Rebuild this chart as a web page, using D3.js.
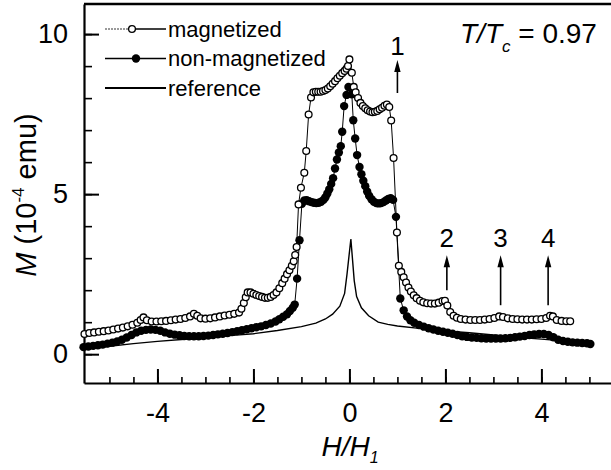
<!DOCTYPE html>
<html>
<head>
<meta charset="utf-8">
<style>
  body { margin: 0; background: #fff; }
  svg { display: block; font-family: "Liberation Sans", Arial, sans-serif; }
</style>
</head>
<body>
<script src="https://cdn.jsdelivr.net/npm/d3@7/dist/d3.min.js"></script>
<script>
// [H/H1, M]
const magnetized = [
  [-5.52,0.63],[-5.42,0.66],[-5.32,0.68],[-5.22,0.70],[-5.12,0.72],[-5.02,0.74],[-4.92,0.77],[-4.82,0.80],
  [-4.72,0.83],[-4.62,0.87],[-4.52,0.92],[-4.42,0.98],[-4.35,1.07],[-4.29,1.15],[-4.22,1.06],[-4.12,1.02],
  [-4.02,1.02],[-3.92,1.03],[-3.82,1.04],[-3.72,1.06],[-3.62,1.08],[-3.52,1.10],[-3.42,1.13],[-3.32,1.18],
  [-3.24,1.26],[-3.17,1.20],[-3.10,1.12],[-3.00,1.11],[-2.90,1.12],[-2.80,1.15],[-2.70,1.18],[-2.60,1.21],
  [-2.50,1.23],[-2.40,1.26],[-2.30,1.30],[-2.25,1.42],[-2.20,1.60],[-2.16,1.78],[-2.12,1.93],[-2.06,1.93],
  [-2.00,1.89],[-1.94,1.85],[-1.88,1.82],[-1.82,1.79],[-1.76,1.76],[-1.70,1.76],[-1.64,1.79],[-1.58,1.85],
  [-1.52,1.93],[-1.46,2.06],[-1.40,2.22],[-1.35,2.36],[-1.30,2.50],[-1.25,2.62],[-1.20,2.76],[-1.16,2.90],
  [-1.13,3.10],[-1.10,3.35],[-1.06,4.68],[-1.01,5.20],[-0.94,5.67],[-0.90,6.35],[-0.85,7.49],[-0.80,8.02],
  [-0.75,8.18],[-0.70,8.20],[-0.65,8.20],[-0.60,8.20],[-0.55,8.22],[-0.50,8.25],[-0.45,8.30],[-0.40,8.37],
  [-0.35,8.45],[-0.30,8.53],[-0.25,8.62],[-0.20,8.70],[-0.15,8.78],[-0.10,8.85],[-0.06,8.92],[-0.03,9.00],
  [0.00,9.21],[0.05,8.79],[0.09,8.35],[0.13,8.18],[0.18,8.00],[0.23,7.85],[0.28,7.75],[0.33,7.68],
  [0.38,7.62],[0.43,7.58],[0.48,7.56],[0.53,7.57],[0.58,7.60],[0.63,7.65],[0.68,7.70],[0.73,7.76],
  [0.78,7.80],[0.83,7.72],[0.87,7.30],[0.92,6.13],[0.99,3.80],[1.03,2.76],[1.08,2.57],[1.13,2.40],
  [1.18,2.24],[1.23,2.08],[1.28,1.96],[1.34,1.84],[1.40,1.75],[1.47,1.67],[1.54,1.62],[1.62,1.59],
  [1.70,1.58],[1.78,1.58],[1.86,1.61],[1.94,1.66],[1.99,1.67],[2.04,1.52],[2.10,1.32],[2.17,1.20],
  [2.24,1.14],[2.32,1.10],[2.42,1.08],[2.52,1.07],[2.62,1.07],[2.72,1.07],[2.82,1.08],[2.92,1.10],
  [3.02,1.13],[3.12,1.18],[3.20,1.16],[3.30,1.12],[3.40,1.10],[3.50,1.09],[3.60,1.08],[3.70,1.08],
  [3.80,1.08],[3.90,1.09],[4.00,1.10],[4.10,1.13],[4.18,1.20],[4.24,1.18],[4.32,1.07],[4.42,1.04],
  [4.52,1.03],[4.60,1.03]
];

const nonMagnetized = [
  [-5.54,0.22],[-5.44,0.24],[-5.34,0.26],[-5.24,0.28],[-5.14,0.30],[-5.04,0.33],[-4.94,0.36],[-4.84,0.40],
  [-4.74,0.45],[-4.64,0.52],[-4.54,0.60],[-4.44,0.68],[-4.34,0.73],[-4.24,0.76],[-4.14,0.77],[-4.04,0.76],
  [-3.94,0.73],[-3.84,0.68],[-3.74,0.64],[-3.64,0.61],[-3.54,0.59],[-3.44,0.57],[-3.34,0.56],[-3.24,0.56],
  [-3.14,0.56],[-3.04,0.57],[-2.94,0.58],[-2.84,0.60],[-2.74,0.62],[-2.64,0.64],[-2.54,0.66],[-2.44,0.69],
  [-2.34,0.72],[-2.24,0.75],[-2.14,0.78],[-2.04,0.81],[-1.94,0.84],[-1.84,0.87],[-1.74,0.91],[-1.64,0.96],
  [-1.54,1.02],[-1.46,1.09],[-1.38,1.17],[-1.30,1.25],[-1.24,1.35],[-1.18,1.45],[-1.14,1.55],[-1.09,2.36],
  [-1.04,3.56],[-0.99,4.70],[-0.94,4.80],[-0.89,4.81],[-0.84,4.78],[-0.79,4.75],[-0.74,4.73],[-0.69,4.72],
  [-0.64,4.73],[-0.59,4.76],[-0.54,4.82],[-0.50,4.90],[-0.46,5.02],[-0.42,5.15],[-0.38,5.32],[-0.34,5.50],
  [-0.30,5.80],[-0.26,6.08],[-0.22,6.30],[-0.18,6.50],[-0.15,6.95],[-0.11,7.75],[-0.06,8.10],[-0.02,8.35],
  [0.05,8.12],[0.08,7.31],[0.12,6.74],[0.16,6.22],[0.21,5.85],[0.25,5.62],[0.29,5.42],[0.33,5.25],
  [0.37,5.08],[0.41,4.95],[0.46,4.84],[0.51,4.76],[0.56,4.72],[0.61,4.71],[0.66,4.72],[0.71,4.75],
  [0.76,4.80],[0.81,4.85],[0.86,4.87],[0.91,4.82],[0.97,4.29],[1.06,1.74],[1.13,1.37],[1.20,1.18],
  [1.27,1.06],[1.35,0.98],[1.45,0.91],[1.55,0.86],[1.65,0.81],[1.75,0.77],[1.85,0.73],[1.95,0.70],
  [2.05,0.67],[2.15,0.64],[2.25,0.60],[2.35,0.56],[2.45,0.54],[2.55,0.52],[2.65,0.51],[2.75,0.50],
  [2.85,0.49],[2.95,0.49],[3.05,0.49],[3.15,0.49],[3.25,0.50],[3.35,0.51],[3.45,0.53],[3.55,0.55],
  [3.65,0.57],[3.75,0.60],[3.85,0.62],[3.95,0.63],[4.05,0.63],[4.15,0.60],[4.25,0.53],[4.35,0.45],
  [4.45,0.41],[4.55,0.39],[4.65,0.37],[4.75,0.36],[4.85,0.35],[4.95,0.34],[5.02,0.32]
];

const reference = [
  [-5.5,0.18],[-5,0.25],[-4.5,0.33],[-4,0.40],[-3.5,0.46],[-3,0.52],[-2.5,0.58],[-2,0.64],
  [-1.5,0.74],[-1,0.86],[-0.7,0.97],[-0.5,1.10],[-0.35,1.25],[-0.2,1.50],[-0.1,1.90],[-0.05,2.50],
  [0.03,3.60],[0.1,2.30],[0.15,1.80],[0.25,1.45],[0.4,1.20],[0.6,1.00],[0.8,0.93],[1,0.88],
  [1.5,0.80],[2,0.73],[2.5,0.67],[3,0.60],[3.5,0.53],[4,0.47],[4.5,0.41],[5,0.35]
];

const xTicks = [-4, -2, 0, 2, 4];
const yTicks = [0, 5, 10];
const legendNames = ["magnetized", "non-magnetized", "reference"];

// numbered arrows: field position, arrow base / tip in M units
const arrowLabels = ["1", "2", "3", "4"];
const arrowH = [1.0, 2.03, 3.15, 4.14];
const arrowBase = [8.16, 2.0, 1.53, 1.53];
const arrowTip = [9.19, 3.09, 3.09, 3.09];
const labelM = [9.34, 3.34, 3.34, 3.34];

var width = 611, height = 470;
var margin = { top: 4, right: 0, bottom: 87, left: 84 };

const svg = d3.select("body").append("svg")
    .attr("width", width)
    .attr("height", height);

var x = d3.scaleLinear()
    .domain([-5.53, 5.45])
    .range([margin.left, width - margin.right]);

var y = d3.scaleLinear()
    .domain([-0.9, 10.94])
    .range([height - margin.bottom, margin.top]);

// minor ticks first, majors on top
svg.append("g")
    .attr("transform", `translate(0,${height - margin.bottom})`)
    .call(d3.axisBottom(x).tickValues(d3.range(-5, 5.01, 0.5)).tickSize(-6).tickSizeOuter(0).tickFormat(""))
    .call(g => g.select(".domain").remove())
    .call(g => g.selectAll("line").attr("stroke-width", 1.6));

svg.append("g")
    .attr("transform", `translate(${margin.left},0)`)
    .call(d3.axisLeft(y).tickValues(d3.range(0, 10.5, 1)).tickSize(-8).tickSizeOuter(0).tickFormat(""))
    .call(g => g.select(".domain").remove())
    .call(g => g.selectAll("line").attr("stroke-width", 1.6));

var xAxis = g => g
    .attr("transform", `translate(0,${height - margin.bottom})`)
    .call(d3.axisBottom(x).tickValues(xTicks).tickSize(-14).tickSizeOuter(0).tickPadding(20).tickFormat(d => String(d)))
    .call(g => g.select(".domain").attr("stroke-width", 2.2))
    .call(g => g.selectAll("line").attr("stroke-width", 2))
    .call(g => g.selectAll("text").attr("font-size", 27).attr("font-family", null).attr("fill", "#000"));

var yAxis = g => g
    .attr("transform", `translate(${margin.left},0)`)
    .call(d3.axisLeft(y).tickValues(yTicks).tickSize(-15).tickSizeOuter(0).tickPadding(16))
    .call(g => g.select(".domain").attr("stroke-width", 2.2))
    .call(g => g.selectAll("line").attr("stroke-width", 2))
    .call(g => g.selectAll("text").attr("font-size", 27).attr("font-family", null).attr("fill", "#000"));

svg.append("g").call(xAxis);
svg.append("g").call(yAxis);

// top frame line
svg.append("line")
    .attr("x1", margin.left).attr("x2", width)
    .attr("y1", margin.top).attr("y2", margin.top)
    .attr("stroke", "#000").attr("stroke-width", 2.5);

var line = d3.line().x(d => x(d[0])).y(d => y(d[1]));

svg.append("path")
    .datum(reference)
    .attr("fill", "none").attr("stroke", "#000").attr("stroke-width", 1.4)
    .attr("d", line);

svg.append("path")
    .datum(nonMagnetized)
    .attr("fill", "none").attr("stroke", "#000").attr("stroke-width", 1)
    .attr("d", line);

svg.append("g")
  .selectAll("circle")
  .data(nonMagnetized)
  .join("circle")
    .attr("cx", d => x(d[0]))
    .attr("cy", d => y(d[1]))
    .attr("r", 4.2)
    .attr("fill", "#000");

svg.append("path")
    .datum(magnetized)
    .attr("fill", "none").attr("stroke", "#000").attr("stroke-width", 1)
    .attr("d", line);

svg.append("g")
  .selectAll("circle")
  .data(magnetized)
  .join("circle")
    .attr("cx", d => x(d[0]))
    .attr("cy", d => y(d[1]))
    .attr("r", 3.4)
    .attr("fill", "#fff")
    .attr("stroke", "#000")
    .attr("stroke-width", 1.3);

// legend
const legend = svg.append("g");
legendNames.forEach((name, i) => {
  const ly = 29 + i * 29.5;
  const row = legend.append("g").attr("transform", `translate(0,${ly})`);
  if (i === 0) {
    row.append("line").attr("x1", 105).attr("x2", 130).attr("stroke", "#000")
        .attr("stroke-width", 0.8).attr("stroke-dasharray", "2,1");
    row.append("line").attr("x1", 130).attr("x2", 166).attr("stroke", "#000").attr("stroke-width", 1.3);
    row.append("circle").attr("cx", 132).attr("r", 3.4).attr("fill", "#fff")
        .attr("stroke", "#000").attr("stroke-width", 1.3);
  } else if (i === 1) {
    row.append("line").attr("x1", 105).attr("x2", 166).attr("stroke", "#000").attr("stroke-width", 1.5);
    row.append("circle").attr("cx", 136).attr("r", 4.2).attr("fill", "#000");
  } else {
    row.append("line").attr("x1", 105).attr("x2", 166).attr("stroke", "#000").attr("stroke-width", 2);
  }
  row.append("text")
      .attr("x", 168).attr("y", 7.5)
      .attr("font-size", 22)
      .text(name);
});

// T/Tc
const tt = svg.append("text").attr("x", 460).attr("y", 43).attr("font-size", 28);
tt.append("tspan").attr("font-style", "italic").text("T/T");
tt.append("tspan").attr("font-style", "italic").attr("font-size", 17).attr("dy", 9).text("c");
tt.append("tspan").attr("dy", -9).text(" = 0.97");

// arrows
arrowLabels.forEach((lab, i) => {
  const ax = x(arrowH[i]);
  const ty = y(arrowTip[i]);
  svg.append("line")
      .attr("x1", ax).attr("x2", ax)
      .attr("y1", y(arrowBase[i])).attr("y2", ty + 8)
      .attr("stroke", "#000").attr("stroke-width", 1.6);
  svg.append("path")
      .attr("d", `M${ax},${ty}L${ax - 3.2},${ty + 12}L${ax + 3.2},${ty + 12}Z`)
      .attr("fill", "#000");
  svg.append("text")
      .attr("x", ax).attr("y", y(labelM[i]))
      .attr("text-anchor", "middle")
      .attr("font-size", 26)
      .text(lab);
});

// axis titles
const xt = svg.append("text")
    .attr("x", 350).attr("y", 456)
    .attr("text-anchor", "middle")
    .attr("font-size", 28)
    .attr("font-style", "italic");
xt.append("tspan").text("H/H");
xt.append("tspan").attr("font-size", 16).attr("dy", 7).text("1");

const yt = svg.append("text")
    .attr("transform", "translate(36,195) rotate(-90)")
    .attr("text-anchor", "middle")
    .attr("font-size", 29);
yt.append("tspan").attr("font-style", "italic").text("M");
yt.append("tspan").text(" (10");
yt.append("tspan").attr("font-size", 17).attr("dy", -12).text("-4");
yt.append("tspan").attr("dy", 12).text(" emu)");
</script>
</body>
</html>
